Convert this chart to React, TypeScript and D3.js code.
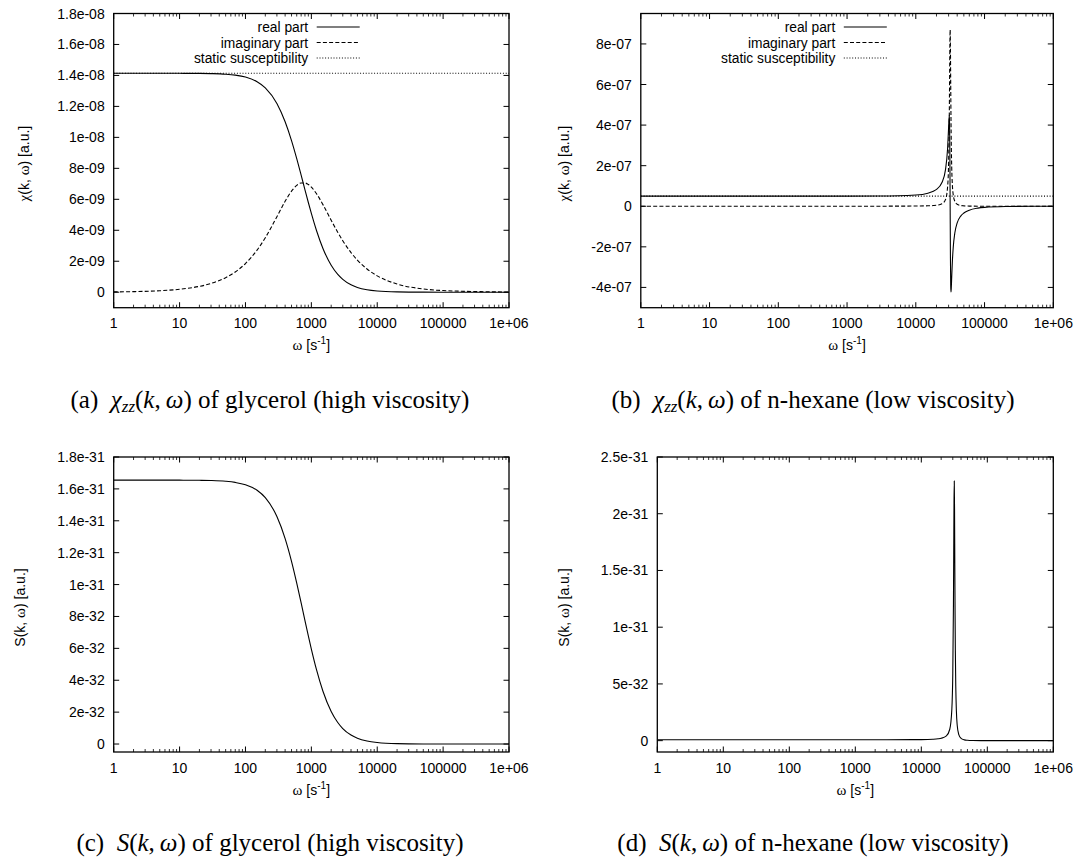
import React from 'react';
import * as d3 from 'd3';

// ---------- data ----------
const omegaGlycerol = [1, 2, 5, 10, 20, 30, 50, 70, 100, 150, 200, 300, 400, 500, 600, 700, 800, 900, 1000, 1200, 1500, 2000, 2500, 3000, 4000, 5000, 7000, 10000, 20000, 50000, 100000, 1000000];
// units of 1e-8
const chiRealGlycerol = [1.414, 1.414, 1.414, 1.4137, 1.413, 1.4117, 1.4078, 1.4018, 1.3893, 1.3596, 1.3201, 1.219, 1.1009, 0.9789, 0.8622, 0.7557, 0.6614, 0.5795, 0.509, 0.3972, 0.2828, 0.1743, 0.1168, 0.0832, 0.048, 0.0311, 0.016, 0.0079, 0.002, 0.0003, 0.0001, 0.0];
const chiImagGlycerol = [0.0019, 0.0038, 0.0094, 0.0189, 0.0377, 0.0565, 0.0938, 0.1308, 0.1852, 0.2719, 0.352, 0.4876, 0.5871, 0.6526, 0.6898, 0.7053, 0.7055, 0.6954, 0.6787, 0.6355, 0.5656, 0.4649, 0.3892, 0.3327, 0.2561, 0.2074, 0.1498, 0.1055, 0.053, 0.0212, 0.0106, 0.0011];
const staticGlycerol = 1.414;
// units of 1e-31
const sGlycerol = [1.655, 1.655, 1.655, 1.6547, 1.6538, 1.6524, 1.6477, 1.6407, 1.6261, 1.5913, 1.5451, 1.4267, 1.2885, 1.1458, 1.0092, 0.8845, 0.7742, 0.6783, 0.5958, 0.4649, 0.331, 0.204, 0.1367, 0.0973, 0.0562, 0.0364, 0.0188, 0.0093, 0.0023, 0.0004, 0.0001, 0.0];

const omegaHexane = [1, 10, 100, 1000, 3000, 10000, 15000, 18000, 20000, 24000, 27000, 29000, 30000, 30700, 31000, 31300, 31600, 31900, 32200, 32500, 32800, 33300, 34000, 35000, 37000, 40000, 45000, 50000, 60000, 80000, 100000, 200000, 500000, 1000000];
// units of 1e-7
const chiRealHexane = [0.5, 0.5, 0.5, 0.5005, 0.5045, 0.5554, 0.6446, 0.7384, 0.8311, 1.1691, 1.7929, 2.85, 3.88, 4.477, 4.094, 2.625, 0, -2.556, -3.912, -4.229, -4.053, -3.48, -2.748, -2.044, -1.305, -0.818, -0.4834, -0.3313, -0.1916, -0.0924, -0.0555, -0.0128, -0.002, -0.0005];
const chiImagHexane = [0, 0, 0.0001, 0.0009, 0.0028, 0.0112, 0.0227, 0.0358, 0.0504, 0.1206, 0.3261, 0.9527, 2.145, 4.452, 6.136, 7.911, 8.7, 7.777, 5.976, 4.326, 3.124, 1.907, 1.078, 0.574, 0.2367, 0.0988, 0.0385, 0.02, 0.008, 0.0025, 0.0011, 0.0001, 0, 0];
const staticHexane = 0.5;
// units of 1e-32
const sHexane = [0.0756, 0.0756, 0.0756, 0.0758, 0.077, 0.0933, 0.1258, 0.1653, 0.2097, 0.4178, 1.0043, 2.732, 5.945, 12.057, 16.458, 21.014, 22.89, 20.271, 15.431, 11.069, 7.919, 4.763, 2.636, 1.363, 0.532, 0.2054, 0.0711, 0.0333, 0.0111, 0.0026, 0.0009, 0.0001, 0, 0];

const xTickValues = [1, 10, 100, 1000, 10000, 100000, 1000000];
const xTickLabels = ['1', '10', '100', '1000', '10000', '100000', '1e+06'];

const yTicksA = [0, 0.2, 0.4, 0.6, 0.8, 1, 1.2, 1.4, 1.6, 1.8];
const yLabelsA = ['0', '2e-09', '4e-09', '6e-09', '8e-09', '1e-08', '1.2e-08', '1.4e-08', '1.6e-08', '1.8e-08'];
const yTicksB = [-4, -2, 0, 2, 4, 6, 8];
const yLabelsB = ['-4e-07', '-2e-07', '0', '2e-07', '4e-07', '6e-07', '8e-07'];
const yTicksC = [0, 0.2, 0.4, 0.6, 0.8, 1, 1.2, 1.4, 1.6, 1.8];
const yLabelsC = ['0', '2e-32', '4e-32', '6e-32', '8e-32', '1e-31', '1.2e-31', '1.4e-31', '1.6e-31', '1.8e-31'];
const yTicksD = [0, 5, 10, 15, 20, 25];
const yLabelsD = ['0', '5e-32', '1e-31', '1.5e-31', '2e-31', '2.5e-31'];

const legendLabels = ['real part', 'imaginary part', 'static susceptibility'];

// ---------- drawing ----------
const SANS = '"Liberation Sans", Arial, Helvetica, sans-serif';
const SERIF = '"Liberation Serif", "Times New Roman", serif';
const DASHES: Record<string, string | undefined> = { solid: undefined, dashed: '4,2.2', dotted: '1,1.8' };

type Series = { xs: number[]; ys: number[]; style: 'solid' | 'dashed' | 'dotted' };
type Box = { l: number; r: number; t: number; b: number };

function Panel(props: {
  id: string; box: Box; yDomain: [number, number]; yTicks: number[]; yLabels: string[];
  series: Series[]; legend?: boolean; yTitle: React.ReactNode; yTitleX: number;
}) {
  const { id, box, yDomain, yTicks, yLabels, series, legend, yTitle, yTitleX } = props;
  const x = d3.scaleLog().domain([1, 1e6]).range([box.l, box.r]);
  const y = d3.scaleLinear().domain(yDomain).range([box.b, box.t]);
  const minor: number[] = [];
  for (let k = 0; k < 6; k++) for (let m = 2; m <= 9; m++) minor.push(m * Math.pow(10, k));
  const MAJ = 5.5, MIN = 3;
  return (
    <g>
      <defs>
        <clipPath id={'clip-' + id}>
          <rect x={box.l} y={box.t} width={box.r - box.l} height={box.b - box.t} />
        </clipPath>
      </defs>
      {/* ticks */}
      <g stroke="#000" strokeWidth={1}>
        {xTickValues.map((v) => (
          <g key={'xm' + v}>
            <line x1={x(v)} x2={x(v)} y1={box.b} y2={box.b - MAJ} />
            <line x1={x(v)} x2={x(v)} y1={box.t} y2={box.t + MAJ} />
          </g>
        ))}
        {minor.map((v) => (
          <g key={'xn' + v}>
            <line x1={x(v)} x2={x(v)} y1={box.b} y2={box.b - MIN} strokeWidth={0.8} />
            <line x1={x(v)} x2={x(v)} y1={box.t} y2={box.t + MIN} strokeWidth={0.8} />
          </g>
        ))}
        {yTicks.map((v) => (
          <g key={'y' + v}>
            <line x1={box.l} x2={box.l + MAJ} y1={y(v)} y2={y(v)} />
            <line x1={box.r} x2={box.r - MAJ} y1={y(v)} y2={y(v)} />
          </g>
        ))}
      </g>
      {/* tick labels */}
      <g fontFamily={SANS} fontSize={14} fill="#000">
        {xTickValues.map((v, i) => (
          <text key={'xl' + v} x={x(v)} y={box.b + 20.6} textAnchor="middle">{xTickLabels[i]}</text>
        ))}
        {yTicks.map((v, i) => (
          <text key={'yl' + v} x={box.l - 9} y={y(v) + 5} textAnchor="end">{yLabels[i]}</text>
        ))}
        <text x={(box.l + box.r) / 2} y={box.b + 42.5} textAnchor="middle">
          <tspan fontFamily={SERIF} fontSize={15}>ω</tspan>
          <tspan> [s</tspan>
          <tspan fontSize={10} dy={-6}>-1</tspan>
          <tspan dy={6}>]</tspan>
        </text>
        <text transform={`translate(${yTitleX},${(box.t + box.b) / 2 + 3}) rotate(-90)`} textAnchor="middle" dy={5}>
          {yTitle}
        </text>
      </g>
      {/* curves */}
      <g clipPath={`url(#clip-${id})`} fill="none" stroke="#000" strokeWidth={1.1}>
        {series.map((s, si) => {
          const line = d3.line<number>()
            .x((_, i) => x(s.xs[i]))
            .y((d) => y(d))
            .curve(d3.curveMonotoneX);
          return <path key={si} d={line(s.ys) || ''} strokeDasharray={DASHES[s.style]} />;
        })}
      </g>
      {/* legend */}
      {legend && (
        <g fontFamily={SANS} fontSize={13.8} fill="#000">
          {legendLabels.map((lab, i) => {
            const cy = box.t + 13.5 + i * 15.5;
            const st = ['solid', 'dashed', 'dotted'][i];
            return (
              <g key={lab}>
                <text x={box.l + 194.5} y={cy + 5} textAnchor="end">{lab}</text>
                <line x1={box.l + 203} x2={box.l + 246} y1={cy} y2={cy} stroke="#000" strokeWidth={1.1} strokeDasharray={DASHES[st]} />
              </g>
            );
          })}
        </g>
      )}
      {/* frame */}
      <rect x={box.l} y={box.t} width={box.r - box.l} height={box.b - box.t} fill="none" stroke="#000" strokeWidth={1.3} />
    </g>
  );
}

function Caption(props: { x: number; y: number; label: string; chi: boolean; rest: string }) {
  const { x, y, label, chi, rest } = props;
  return (
    <text x={x} y={y} textAnchor="middle" fontFamily={SERIF} fontSize={25} fill="#000">
      <tspan>{label + '\u00a0\u00a0'}</tspan>
      {chi ? (
        <>
          <tspan fontStyle="italic">χ</tspan>
          <tspan fontStyle="italic" fontSize={17} dy={4}>zz</tspan>
          <tspan dy={-4}>(</tspan>
        </>
      ) : (
        <>
          <tspan fontStyle="italic">S</tspan>
          <tspan>(</tspan>
        </>
      )}
      <tspan fontStyle="italic">k</tspan>
      <tspan>{',\u2009'}</tspan>
      <tspan fontStyle="italic">ω</tspan>
      <tspan>{') ' + rest}</tspan>
    </text>
  );
}

export default function App() {
  const chiTitle = (
    <>
      <tspan fontFamily={SERIF} fontSize={15}>χ</tspan>
      <tspan>(k, </tspan>
      <tspan fontFamily={SERIF} fontSize={15}>ω</tspan>
      <tspan>) [a.u.]</tspan>
    </>
  );
  const sTitle = (
    <>
      <tspan>S(k, </tspan>
      <tspan fontFamily={SERIF} fontSize={15}>ω</tspan>
      <tspan>) [a.u.]</tspan>
    </>
  );
  return (
    <div style={{ position: 'absolute', left: 0, top: 0, width: 1078, height: 861, overflow: 'hidden', background: '#fff' }}>
      <svg width={1078} height={861} viewBox="0 0 1078 861" style={{ display: 'block' }}>
        <rect width={1078} height={861} fill="#fff" />
        <Panel
          id="a" box={{ l: 113.7, r: 509, t: 13.5, b: 307.7 }} yDomain={[-0.1, 1.8]}
          yTicks={yTicksA} yLabels={yLabelsA} legend yTitle={chiTitle} yTitleX={23.6}
          series={[
            { xs: omegaGlycerol, ys: omegaGlycerol.map(() => staticGlycerol), style: 'dotted' },
            { xs: omegaGlycerol, ys: chiImagGlycerol, style: 'dashed' },
            { xs: omegaGlycerol, ys: chiRealGlycerol, style: 'solid' },
          ]}
        />
        <Panel
          id="b" box={{ l: 640.8, r: 1053.3, t: 13.5, b: 307.7 }} yDomain={[-5, 9.5]}
          yTicks={yTicksB} yLabels={yLabelsB} legend yTitle={chiTitle} yTitleX={564}
          series={[
            { xs: omegaHexane, ys: omegaHexane.map(() => staticHexane), style: 'dotted' },
            { xs: omegaHexane, ys: chiImagHexane, style: 'dashed' },
            { xs: omegaHexane, ys: chiRealHexane, style: 'solid' },
          ]}
        />
        <Panel
          id="c" box={{ l: 113.7, r: 509, t: 457, b: 752 }} yDomain={[-0.05, 1.8]}
          yTicks={yTicksC} yLabels={yLabelsC} yTitle={sTitle} yTitleX={20}
          series={[{ xs: omegaGlycerol, ys: sGlycerol, style: 'solid' }]}
        />
        <Panel
          id="d" box={{ l: 657.3, r: 1053.3, t: 457, b: 752 }} yDomain={[-1, 25]}
          yTicks={yTicksD} yLabels={yLabelsD} yTitle={sTitle} yTitleX={563.5}
          series={[{ xs: omegaHexane, ys: sHexane, style: 'solid' }]}
        />
        <Caption x={270} y={407.5} label="(a)" chi rest="of glycerol (high viscosity)" />
        <Caption x={813} y={407.5} label="(b)" chi rest="of n-hexane (low viscosity)" />
        <Caption x={270} y={851} label="(c)" chi={false} rest="of glycerol (high viscosity)" />
        <Caption x={813} y={851} label="(d)" chi={false} rest="of n-hexane (low viscosity)" />
      </svg>
    </div>
  );
}
